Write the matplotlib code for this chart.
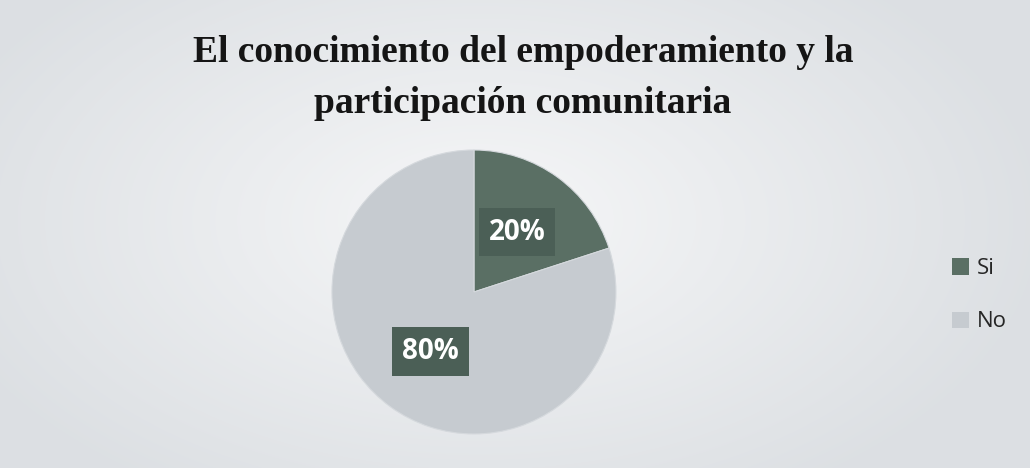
import numpy as np
import matplotlib.pyplot as plt
from matplotlib.patches import Patch

categories = ['Si', 'No']
values = [20, 80]
colors = ['#5a6f64', '#c6cbd0']
title_lines = ['El conocimiento del empoderamiento y la', 'participación comunitaria']

fig = plt.figure(figsize=(10.3, 4.68), dpi=100)
fig.patch.set_facecolor('#e0e3e6')

# soft background glow
bg = fig.add_axes([0, 0, 1, 1], zorder=-1)
yy, xx = np.mgrid[0:468, 0:1030]
d = np.sqrt(((xx - 480) / 560.0) ** 2 + ((yy - 220) / 320.0) ** 2)
glow = np.clip(1 - d, 0, 1)
base = np.array([0.865, 0.878, 0.892])
top = np.array([0.965, 0.968, 0.972])
img = base + (top - base) * glow[..., None]
bg.imshow(img, aspect='auto', extent=[0, 1, 0, 1])
bg.axis('off')

# title, two lines (baselines)
for line, yb in zip(title_lines, [62, 113]):
    fig.text(523 / 1030, 1 - yb / 468, line, ha='center', va='baseline',
             fontsize=27, fontweight='bold', family='Liberation Serif',
             color='#151515')

ax = fig.add_axes([0.3223, 0.0726, 0.2757, 0.607])
wedges, texts, autotexts = ax.pie(
    values, colors=colors, startangle=90, counterclock=False,
    autopct='%1.0f%%', pctdistance=0.52,
    wedgeprops=dict(linewidth=0.8, edgecolor='#d5d9dd'))
ax.set_xlim(-1, 1)
ax.set_ylim(-1, 1)
ax.set_aspect('equal')

for t in autotexts:
    t.set_fontsize(20)
    t.set_fontweight('bold')
    t.set_family('Open Sans')
    t.set_color('white')
    t.set_bbox(dict(boxstyle='square,pad=0.35', facecolor='#4b5f56',
                    edgecolor='none'))

handles = [Patch(facecolor=c, edgecolor='none') for c in colors]
leg = fig.legend(handles, categories, loc='center left',
                 bbox_to_anchor=(0.905, 0.369), frameon=False,
                 prop={'family': 'Open Sans', 'size': 16},
                 handlelength=0.75, handleheight=0.75, handletextpad=0.35,
                 labelspacing=1.45)
for t in leg.get_texts():
    t.set_color('#262626')

fig.savefig('out.png', dpi=100, facecolor=fig.get_facecolor())
